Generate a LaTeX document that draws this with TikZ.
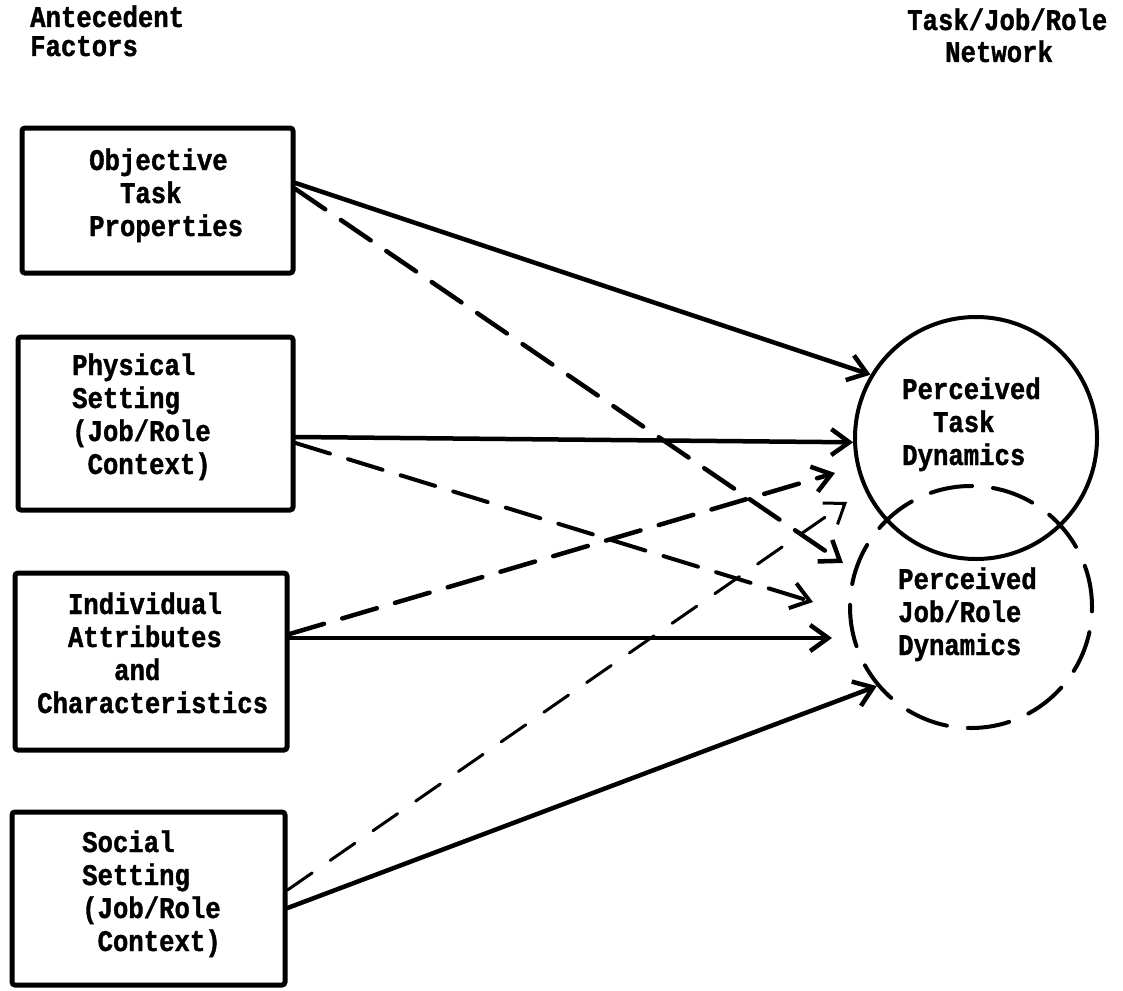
\documentclass[tikz,border=0pt]{standalone}
\usepackage{fontspec}
\newfontfamily\twfont{Liberation Mono}[FakeStretch=0.855, FakeBold=1.2]
\usetikzlibrary{arrows.meta}
\newcommand\twgap[1]{\hphantom{#1}}

\begin{document}
\begin{tikzpicture}[x=1pt,y=-1pt,
  tw/.style={anchor=base west, inner sep=0pt,
    font=\twfont\bfseries\fontsize{30}{33}\selectfont},
  factor/.style={draw, line width=5pt, rounded corners=3pt, inner sep=0pt},
  outcome/.style={circle, draw, line width=4pt, minimum size=242pt, inner sep=0pt},
  link/.style={line width=4.5pt, line cap=round,
    -{Straight Barb[length=18pt,width=26pt]}},
  dlink/.style={link, dash pattern=on 36pt off 19pt},
]
\useasboundingbox (0,0) rectangle (1123,990);

% column headings
\node[tw, font=\twfont\bfseries\fontsize{30}{29}\selectfont] (hl) at (30,27)
  {\begin{tabular}[t]{@{}l@{}}Antecedent\\Factors\end{tabular}};
\node[tw, font=\twfont\bfseries\fontsize{30}{32}\selectfont] (hr) at (907,30)
  {\begin{tabular}[t]{@{}l@{}}Task/Job/Role\\\hspace*{38pt}Network\end{tabular}};

% antecedent factor boxes
\node[factor, minimum width=271pt, minimum height=145pt] (b1) at (157.5,200.5) {};
\node[tw] (t1) at (89,170)
  {\begin{tabular}[t]{@{}l@{}}Objective\\\twgap{xx}Task\\Properties\end{tabular}};

\node[factor, minimum width=275pt, minimum height=173pt] (b2) at (155.5,423.5) {};
\node[tw] (t2) at (72,375)
  {\begin{tabular}[t]{@{}l@{}}Physical\\Setting\\(Job/Role\\\twgap{x}Context)\end{tabular}};

\node[factor, minimum width=272pt, minimum height=177pt] (b3) at (151,661.5) {};
\node[tw] (t3) at (37,614)
  {\begin{tabular}[t]{@{}l@{}}\twgap{xx}Individual\\\twgap{xx}Attributes\\\twgap{xxxxx}and\\Characteristics\end{tabular}};

\node[factor, minimum width=273pt, minimum height=173pt] (b4) at (148.5,898.5) {};
\node[tw] (t4) at (82,852)
  {\begin{tabular}[t]{@{}l@{}}Social\\Setting\\(Job/Role\\\twgap{x}Context)\end{tabular}};

% perceived dynamics circles
\node[outcome] (c1) at (976,438) {};
\node[outcome, line cap=round, dash pattern=on 42pt off 21pt] (c2) at (971,607) {};
\node[tw] (tc1) at (902,399)
  {\begin{tabular}[t]{@{}l@{}}Perceived\\\twgap{xx}Task\\Dynamics\end{tabular}};
\node[tw] (tc2) at (898,589)
  {\begin{tabular}[t]{@{}l@{}}Perceived\\Job/Role\\Dynamics\end{tabular}};

% free arrow ends
\coordinate (e1) at (843,563);
\coordinate (e2) at (813,602);
\coordinate (e3) at (832,638);
\coordinate (e4) at (835,473);
\coordinate (e5) at (847,502);

% influences
\draw[link]  ([yshift=17.5pt]b1.east)  -- (c1.149);
\draw[dlink] ([yshift=11.5pt]b1.east)  -- (e1);
\draw[link]  ([yshift=-13.5pt]b2.east) -- (c1.182);
\draw[dlink, line width=4pt] ([yshift=-19.5pt]b2.east) -- (e2);
\draw[link]  ([yshift=23.5pt]b3.east)  -- (e3);
\draw[dlink] ([yshift=27.5pt]b3.east)  -- (e4);
\draw[link]  ([yshift=-9.5pt]b4.east)  -- (c2.220);
\draw[dlink, line width=3pt, dash pattern=on 30pt off 22pt] ([yshift=8.5pt]b4.east) -- (e5);
\end{tikzpicture}
\end{document}
